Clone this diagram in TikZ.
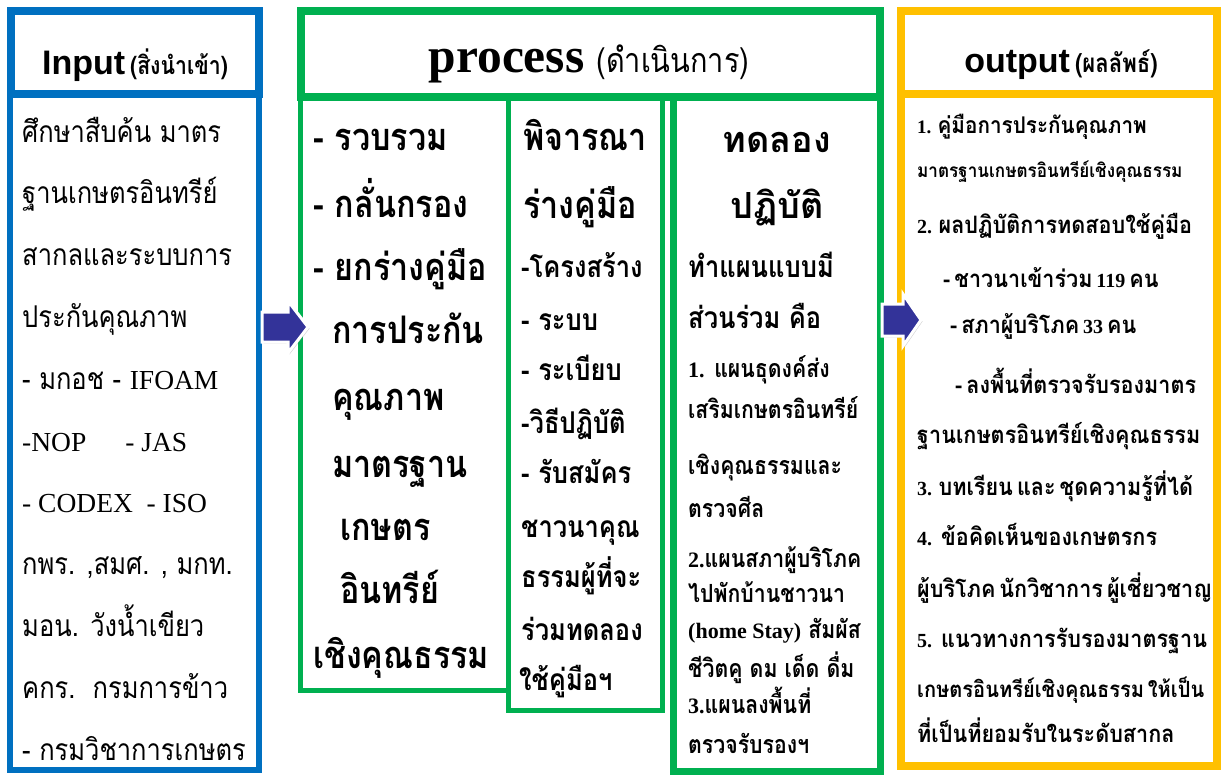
\documentclass[tikz,border=0pt]{standalone}
\usepackage{fontspec}
\setmainfont{Liberation Serif}
\newfontfamily\sansf{Liberation Sans}
\newfontfamily\thf[Script=Thai,FakeStretch=0.85]{Loma}
\newfontfamily\thw[Script=Thai,FakeStretch=0.9,WordSpace=0.55]{Loma}
\newfontfamily\thx[Script=Thai,FakeStretch=1.0]{Loma}
\usepackage{tikz}
\usetikzlibrary{shadows}
\definecolor{inblue}{RGB}{0,112,192}
\definecolor{prgreen}{RGB}{0,176,80}
\definecolor{outgold}{RGB}{255,192,0}
\definecolor{arrblue}{RGB}{51,51,153}
\def\latsz{20}
\newcommand{\lat}[1]{{\rmfamily\fontsize{\latsz}{\latsz}\selectfont #1}}
\tikzset{>=latex}
\tikzset{
  ln/.style = {anchor = base west, inner sep = 0pt},
  txtIn/.style = {ln, font = \def\latsz{27.5}\thf\fontsize{30}{30}\selectfont},
  txtBig/.style = {ln, font = \thf\bfseries\fontsize{38}{38}\selectfont},
  txtMid/.style = {ln, font = \thf\bfseries\fontsize{30}{30}\selectfont},
  txtSm/.style = {ln, font = \def\latsz{22}\thf\bfseries\fontsize{25}{25}\selectfont},
  txtOut/.style = {ln, font = \def\latsz{20}\thw\bfseries\fontsize{24}{24}\selectfont},
  blockarrow/.style = {fill = arrblue, draw = white, line width = 3pt, line join = miter,
    drop shadow = {opacity = 0.35, shadow xshift = 1.5pt, shadow yshift = -1.5pt}}
}

\begin{document}
\begin{tikzpicture}[x = 1pt, y = -1pt]
\useasboundingbox (0,0) rectangle (1221,774);

% input
\draw[inblue, line width = 8pt] (11,11) rectangle (259,94);
\draw[inblue, line width = 6pt] (10,94) rectangle (259,770);
\node[anchor = base, inner sep = 0pt] (hdIn) at (135,74)
  {{\sansf\bfseries\fontsize{34}{34}\selectfont Input}\hspace{5pt}{\thf\bfseries\fontsize{25}{25}\selectfont (สิ่งนำเข้า)}};
\foreach \txt [count = \i] in {ศึกษาสืบค้น มาตร, ฐานเกษตรอินทรีย์, สากลและระบบการ, ประกันคุณภาพ,
  {- มกอช - \lat{IFOAM}}, {\lat{-NOP\hspace{39pt}- JAS}}, {\lat{- CODEX\ \ - ISO}},
  {กพร. ,สมศ. , มกท.}, {มอน. วังน้ำเขียว}, {คกร.\ \ กรมการข้าว}, {- กรมวิชาการเกษตร}}
  \node[txtIn] (in\i) at (22, 80.2 + 61.8*\i) {\txt};

% process
\draw[prgreen, line width = 8pt] (301,10.5) rectangle (879.5,96.5);
\draw[prgreen, line width = 5pt] (300.5,96.5) rectangle (508,690.5);
\draw[prgreen, line width = 5pt] (508,96.5) rectangle (662.5,710.5);
\draw[prgreen, line width = 7pt] (673,96.5) rectangle (880,771);
\node[anchor = base, inner sep = 0pt] (hdProc) at (589,72)
  {{\bfseries\fontsize{49.5}{50}\selectfont process}\hspace{12pt}{\thf\fontsize{34}{34}\selectfont (ดำเนินการ)}};
\foreach \x/\y/\txt [count = \i] in {313/150/- รวบรวม, 313/217/- กลั่นกรอง, 313/280/- ยกร่างคู่มือ,
  332/343/การประกัน, 332/410/คุณภาพ, 332/477/มาตรฐาน, 340/540/เกษตร, 340/603/อินทรีย์,
  313/668/เชิงคุณธรรม}
  \node[txtBig] (pa\i) at (\x,\y) {\txt};
\node[txtBig] (pb1) at (523,150) {พิจารณา};
\node[txtBig] (pb2) at (523,218) {ร่างคู่มือ};
\foreach \x/\y/\txt [count = \i from 3] in {521/277/-โครงสร้าง, 521/330/- ระบบ, 521/380/- ระเบียบ,
  521/433/-วิธีปฏิบัติ, 521/483/- รับสมัคร, 521/537/ชาวนาคุณ, 521/587/ธรรมผู้ที่จะ,
  521/640/ร่วมทดลอง, 519/690/ใช้คู่มือฯ}
  \node[txtMid] (pb\i) at (\x,\y) {\txt};
\node[txtBig, anchor = base, font = \thx\bfseries\fontsize{36}{36}\selectfont] (pc1) at (777,152) {ทดลอง};
\node[txtBig, anchor = base, font = \thx\bfseries\fontsize{36}{36}\selectfont] (pc2) at (777,218) {ปฏิบัติ};
\node[txtMid] (pc3) at (688,277) {ทำแผนแบบมี};
\node[txtMid] (pc4) at (688,328) {ส่วนร่วม คือ};
\foreach \y/\txt [count = \i from 5] in {377/{\lat{1.} แผนธุดงค์ส่ง}, 418/เสริมเกษตรอินทรีย์,
  474/เชิงคุณธรรมและ, 517/ตรวจศีล, 567/{\lat{2.}แผนสภาผู้บริโภค}, 602/ไปพักบ้านชาวนา,
  638/{\lat{(home Stay)} สัมผัส}, 677/ชีวิตคู ดม เด็ด ดื่ม, 713/{\lat{3.}แผนลงพื้นที่}, 753/ตรวจรับรองฯ}
  \node[txtSm] (pc\i) at (688,\y) {\txt};

% output
\draw[outgold, line width = 8pt] (901,11) rectangle (1217,94);
\draw[outgold, line width = 8pt] (901,94) rectangle (1217,766);
\node[anchor = base, inner sep = 0pt] (hdOut) at (1061,72)
  {{\sansf\bfseries\fontsize{34}{34}\selectfont output}\hspace{5pt}{\thf\bfseries\fontsize{26}{26}\selectfont (ผลลัพธ์)}};
\node[txtOut, font = \def\latsz{19}\thw\bfseries\fontsize{23}{23}\selectfont] (out1) at (917,133)
  {\lat{1.} คู่มือการประกันคุณภาพ};
\node[txtOut, font = \thw\bfseries\fontsize{19}{19}\selectfont] (out2) at (917,177)
  {มาตรฐานเกษตรอินทรีย์เชิงคุณธรรม};
\foreach \x/\y/\txt [count = \i from 3] in {917/233/{\lat{2.} ผลปฏิบัติการทดสอบใช้คู่มือ},
  943/287/{- ชาวนาเข้าร่วม \lat{119} คน}, 950/333/{- สภาผู้บริโภค \lat{33} คน},
  955/393/- ลงพื้นที่ตรวจรับรองมาตร, 917/443/ฐานเกษตรอินทรีย์เชิงคุณธรรม,
  917/495/{\lat{3.} บทเรียน และ ชุดความรู้ที่ได้}, 917/545/{\lat{4.}\hspace{9pt}ข้อคิดเห็นของเกษตรกร},
  917/597/ผู้บริโภค นักวิชาการ ผู้เชี่ยวชาญ, 917/647/{\lat{5.}\hspace{9pt}แนวทางการรับรองมาตรฐาน},
  917/697/{\fontsize{22.3}{22.3}\selectfont เกษตรอินทรีย์เชิงคุณธรรม ให้เป็น}, 917/742/ที่เป็นที่ยอมรับในระดับสากล}
  \node[txtOut] (out\i) at (\x,\y) {\txt};

% arrows
\coordinate (arrA) at (262,327);
\coordinate (arrB) at (882,320);
\draw[blockarrow] (arrA) ++(0,-15) -- ++(26,0) -- ++(0,-11) -- ++(20,26) -- ++(-20,26)
  -- ++(0,-11) -- ++(-26,0) -- cycle;
\draw[blockarrow] (arrB) ++(0,-16) -- ++(21,0) -- ++(0,-10) -- ++(18,26) -- ++(-18,26)
  -- ++(0,-10) -- ++(-21,0) -- cycle;
\end{tikzpicture}
\end{document}
